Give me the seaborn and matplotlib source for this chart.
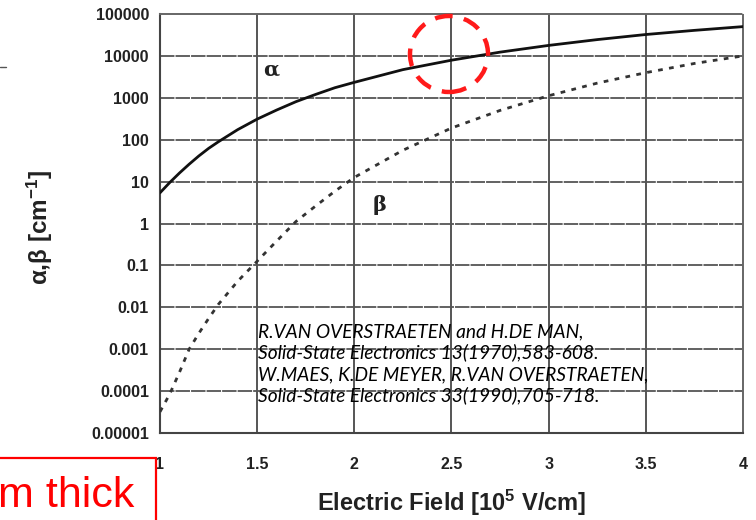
import matplotlib
matplotlib.use("Agg")
import matplotlib.pyplot as plt
import numpy as np
import pandas as pd
import seaborn as sns
from matplotlib.patches import Ellipse, Rectangle
from matplotlib.lines import Line2D
from matplotlib.ticker import FixedLocator, FixedFormatter

# Electric field [1e5 V/cm] and impact ionization coefficients [1/cm]
field = [1.0, 1.05, 1.1, 1.15, 1.2, 1.25, 1.3, 1.4, 1.5, 1.6, 1.7, 1.8, 1.9,
         2.0, 2.25, 2.5, 2.75, 3.0, 3.25, 3.5, 3.75, 4.0]
alpha = [5.4, 9.5, 16, 26, 41, 62, 89, 174, 310, 510, 810, 1200, 1740,
         2340, 4700, 7900, 12300, 17800, 24500, 32400, 40700, 50000]
beta = [3.2e-5, 8.5e-5, 2.8e-4, 1.0e-3, 2.4e-3, 5.4e-3, 0.0117, 0.042, 0.126,
        0.38, 1.12, 2.6, 5.9, 12.6, 56, 190, 500, 1120, 2240, 3980, 6600, 10000]

x_ticks = [1, 1.5, 2, 2.5, 3, 3.5, 4]
x_tick_labels = ["1", "1.5", "2", "2.5", "3", "3.5", "4"]
y_ticks = [1e-5, 1e-4, 1e-3, 1e-2, 1e-1, 1, 10, 100, 1000, 10000, 100000]
y_tick_labels = ["0.00001", "0.0001", "0.001", "0.01", "0.1", "1", "10",
                 "100", "1000", "10000", "100000"]

citation = [
    "R.VAN OVERSTRAETEN and H.DE MAN,",
    "Solid-State Electronics 13(1970),583-608.",
    "W.MAES, K.DE MEYER, R.VAN OVERSTRAETEN,",
    "Solid-State Electronics 33(1990),705-718.",
]

df = pd.concat([
    pd.DataFrame({"field": field, "coef": alpha, "carrier": "α"}),
    pd.DataFrame({"field": field, "coef": beta, "carrier": "β"}),
])

sns.set_style("white")
plt.rcParams["font.family"] = ["Liberation Sans", "DejaVu Sans"]
plt.rcParams["mathtext.fontset"] = "custom"
plt.rcParams["mathtext.rm"] = "Liberation Sans:bold"
plt.rcParams["mathtext.bf"] = "Liberation Sans:bold"
plt.rcParams["mathtext.default"] = "bf"

fig = plt.figure(figsize=(7.56, 5.2), dpi=100)
ax = fig.add_axes([160 / 756, 1 - 433 / 520, 583 / 756, 419 / 520])

grid_c = "#555555"
for xv in x_ticks[1:-1]:
    ax.axvline(xv, color=grid_c, lw=1.4, zorder=1)
for yv in y_ticks[1:-1]:
    ax.axhline(yv, color=grid_c, lw=1.3, ls=(0, (8, 0.6)), zorder=1)

sns.lineplot(data=df, x="field", y="coef", hue="carrier", style="carrier",
             palette={"α": "#111111", "β": "#333333"},
             dashes={"α": "", "β": (1.7, 2.3)},
             linewidth=2.0, legend=False, ax=ax, zorder=3)

ax.set_yscale("log")
ax.set_xlim(1, 4)
ax.set_ylim(1e-5, 1e5)
ax.xaxis.set_major_locator(FixedLocator(x_ticks))
ax.xaxis.set_major_formatter(FixedFormatter(x_tick_labels))
ax.yaxis.set_major_locator(FixedLocator(y_ticks))
ax.yaxis.set_major_formatter(FixedFormatter(y_tick_labels))
ax.yaxis.set_minor_locator(FixedLocator([]))
ax.tick_params(axis="both", which="major", direction="out", length=5,
               width=1.3, color="#444444", labelsize=11.5, labelcolor="#222222")
ax.tick_params(axis="y", pad=3)
ax.tick_params(axis="x", pad=12)
for lab in ax.get_xticklabels() + ax.get_yticklabels():
    lab.set_fontweight("bold")

for side in ["left", "bottom"]:
    ax.spines[side].set_color("#444444")
    ax.spines[side].set_linewidth(1.5)
for side in ["top", "right"]:
    ax.spines[side].set_color("#666666")
    ax.spines[side].set_linewidth(1.4)
    ax.spines[side].set_linestyle((0, (2, 1)))

ax.set_xlabel("Electric Field [10$^5$ V/cm]", fontsize=17, fontweight="bold",
              color="#222222")
ax.set_ylabel("α,β [cm$^{-1}$]", fontsize=17.5, fontweight="bold",
              color="#222222")
ax.xaxis.set_label_coords(0.5, -0.13)
ax.yaxis.set_label_coords(-0.18, 0.49)

# Curve annotations
ax.text(1.57, 4600, "α", fontsize=15, fontweight="bold", family="DejaVu Serif",
        ha="center", va="center", color="#222222")
ax.text(2.13, 2.7, "β", fontsize=15, fontweight="bold", family="DejaVu Serif",
        ha="center", va="center", color="#222222")

# Reference note
for i, line in enumerate(citation):
    fig.text(258 / 756, 1 - (337 + 21.5 * i) / 520, line, fontsize=13.8,
             style="italic", family="Lato", color="black", va="baseline",
             ha="left")

# Highlight around the curve near 2.5e5 V/cm
fig.add_artist(Ellipse((449 / 756, 1 - 54 / 520), 78 / 756, 76 / 520,
                       transform=fig.transFigure, fill=False,
                       edgecolor="#ff1a1a", lw=3.2, ls=(0, (4, 2.6)),
                       zorder=10))

# Slide fragments around the figure
fig.add_artist(Rectangle((-0.02, -0.05), 156 / 756 + 0.02, 1 - 458 / 520 + 0.05,
                         transform=fig.transFigure, fill=False,
                         edgecolor="#ff0000", lw=1.6))
fig.text(134 / 756, 1 - 507 / 520, "m thick", fontsize=31, color="#ff0000",
         ha="right", va="baseline", family="Liberation Sans")
fig.add_artist(Line2D([0, 6 / 756], [1 - 66.5 / 520, 1 - 66.5 / 520],
                      transform=fig.transFigure, color="#555555", lw=1))

fig.savefig("out.png", dpi=100)
